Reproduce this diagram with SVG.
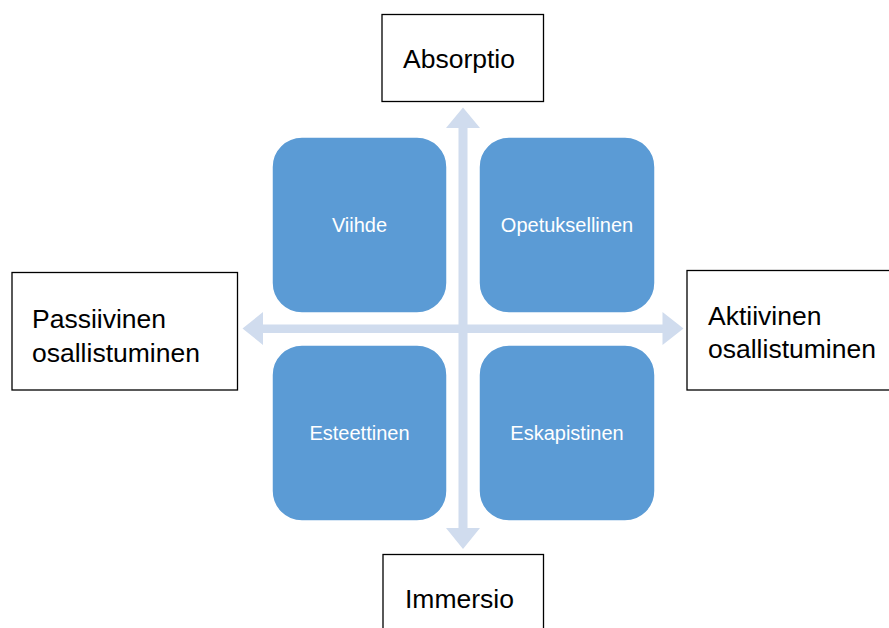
<svg xmlns="http://www.w3.org/2000/svg" width="889" height="628" viewBox="0 0 889 628">
<style>
.box{fill:#fff;stroke:#000;stroke-width:1.3}
.lbl{font-family:"Liberation Sans",Arial,sans-serif;font-size:26.5px;fill:#000}
.tile{fill:#5B9BD5;stroke:#fff;stroke-width:1.5}
.tl{font-family:"Liberation Sans",Arial,sans-serif;font-size:20px;fill:#fff;text-anchor:middle}
.arr{fill:#D0DCEE}
</style>
<rect width="889" height="628" fill="#fff"/>
<g id="connectors">
<polygon class="arr" points="458.5,128 446,128 463,107.5 480,128 467.5,128 467.5,528 480,528 463,549 446,528 458.5,528"/>
<polygon class="arr" points="263,324.5 263,312 242.5,328.5 263,345 263,333 662.5,333 662.5,345 683.5,328.5 662.5,312 662.5,324.5"/>
</g>
<g id="absorptio">
<rect class="box" x="382" y="14.5" width="161.5" height="87"/>
<text class="lbl" x="403" y="68.3">Absorptio</text>
</g>
<g id="passiivinen">
<rect class="box" x="12" y="272.5" width="225.5" height="117.5"/>
<text class="lbl" x="32" y="328.3">Passiivinen</text>
<text class="lbl" x="32" y="361.7">osallistuminen</text>
</g>
<g id="aktiivinen">
<rect class="box" x="687" y="270.5" width="210" height="119.5"/>
<text class="lbl" x="708" y="325">Aktiivinen</text>
<text class="lbl" x="708" y="357.5">osallistuminen</text>
</g>
<g id="immersio">
<rect class="box" x="383" y="554.5" width="160.5" height="90"/>
<text class="lbl" x="405" y="608.3">Immersio</text>
</g>
<g id="viihde">
<rect class="tile" x="272" y="137" width="175" height="176" rx="30" ry="30"/>
<text class="tl" x="359.5" y="232">Viihde</text>
</g>
<g id="opetuksellinen">
<rect class="tile" x="479" y="137" width="176" height="176" rx="30" ry="30"/>
<text class="tl" x="567" y="232">Opetuksellinen</text>
</g>
<g id="esteettinen">
<rect class="tile" x="272" y="345" width="175" height="176" rx="30" ry="30"/>
<text class="tl" x="359.5" y="440">Esteettinen</text>
</g>
<g id="eskapistinen">
<rect class="tile" x="479" y="345" width="176" height="176" rx="30" ry="30"/>
<text class="tl" x="567" y="440">Eskapistinen</text>
</g>
</svg>
